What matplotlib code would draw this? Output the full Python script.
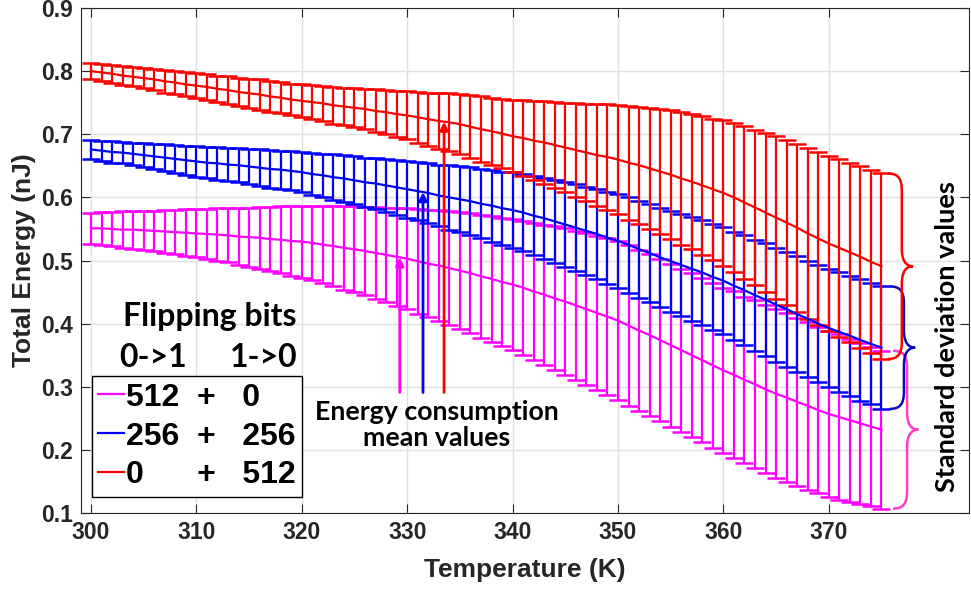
import numpy as np
import matplotlib
matplotlib.use('Agg')
import matplotlib.pyplot as plt
from matplotlib.path import Path
from matplotlib.patches import PathPatch

# Температура, K (шаг 1 K)
temperature = list(range(300, 376))

# 512 + 0 (0->1 + 1->0)
magenta_mean = [0.551, 0.551, 0.550, 0.549, 0.549, 0.548, 0.547, 0.546, 0.545, 0.544,
                0.543, 0.542, 0.541, 0.540, 0.538, 0.537, 0.536, 0.534, 0.533, 0.531,
                0.530, 0.528, 0.525, 0.523, 0.520, 0.518, 0.515, 0.512, 0.509, 0.506,
                0.503, 0.499, 0.495, 0.492, 0.488, 0.484, 0.480, 0.475, 0.471, 0.466,
                0.462, 0.457, 0.451, 0.446, 0.440, 0.435, 0.429, 0.423, 0.417, 0.411,
                0.405, 0.397, 0.389, 0.382, 0.374, 0.366, 0.358, 0.350, 0.342, 0.334,
                0.326, 0.319, 0.311, 0.304, 0.296, 0.289, 0.283, 0.276, 0.270, 0.263,
                0.257, 0.252, 0.247, 0.242, 0.237, 0.232]
magenta_std = [0.025, 0.026, 0.027, 0.029, 0.030, 0.031, 0.032, 0.034, 0.035, 0.037,
               0.038, 0.040, 0.042, 0.043, 0.045, 0.047, 0.049, 0.051, 0.053, 0.055,
               0.057, 0.059, 0.061, 0.064, 0.066, 0.068, 0.070, 0.073, 0.075, 0.078,
               0.080, 0.083, 0.085, 0.088, 0.090, 0.093, 0.095, 0.097, 0.100, 0.102,
               0.104, 0.106, 0.109, 0.111, 0.114, 0.116, 0.118, 0.120, 0.122, 0.124,
               0.126, 0.127, 0.127, 0.128, 0.128, 0.129, 0.129, 0.130, 0.130, 0.131,
               0.131, 0.132, 0.132, 0.133, 0.133, 0.134, 0.134, 0.133, 0.133, 0.132,
               0.132, 0.131, 0.129, 0.128, 0.126, 0.125]

# 256 + 256
blue_mean = [0.676, 0.674, 0.672, 0.671, 0.669, 0.667, 0.665, 0.663, 0.661, 0.659,
             0.657, 0.655, 0.654, 0.652, 0.651, 0.649, 0.647, 0.645, 0.644, 0.642,
             0.640, 0.637, 0.635, 0.632, 0.630, 0.627, 0.624, 0.622, 0.619, 0.616,
             0.613, 0.610, 0.607, 0.603, 0.600, 0.597, 0.594, 0.590, 0.587, 0.583,
             0.580, 0.576, 0.571, 0.567, 0.562, 0.557, 0.552, 0.547, 0.542, 0.536,
             0.531, 0.525, 0.518, 0.512, 0.505, 0.499, 0.493, 0.487, 0.481, 0.474,
             0.468, 0.460, 0.453, 0.445, 0.438, 0.430, 0.423, 0.415, 0.408, 0.400,
             0.393, 0.387, 0.381, 0.374, 0.368, 0.362]
blue_std = [0.015, 0.016, 0.017, 0.017, 0.018, 0.019, 0.020, 0.021, 0.022, 0.023,
            0.024, 0.025, 0.026, 0.026, 0.027, 0.028, 0.029, 0.030, 0.030, 0.031,
            0.032, 0.033, 0.034, 0.036, 0.037, 0.038, 0.039, 0.041, 0.042, 0.044,
            0.045, 0.046, 0.048, 0.049, 0.051, 0.052, 0.054, 0.055, 0.057, 0.058,
            0.060, 0.061, 0.063, 0.064, 0.066, 0.067, 0.069, 0.070, 0.072, 0.073,
            0.075, 0.076, 0.077, 0.078, 0.079, 0.080, 0.081, 0.082, 0.083, 0.084,
            0.085, 0.086, 0.087, 0.088, 0.089, 0.090, 0.091, 0.092, 0.092, 0.093,
            0.094, 0.095, 0.095, 0.096, 0.096, 0.097]

# 0 + 512
red_mean = [0.800, 0.798, 0.796, 0.793, 0.791, 0.789, 0.787, 0.784, 0.782, 0.779,
            0.777, 0.775, 0.772, 0.770, 0.767, 0.765, 0.763, 0.760, 0.758, 0.755,
            0.753, 0.751, 0.749, 0.746, 0.744, 0.742, 0.740, 0.737, 0.735, 0.732,
            0.730, 0.727, 0.724, 0.721, 0.719, 0.716, 0.712, 0.708, 0.705, 0.701,
            0.697, 0.694, 0.690, 0.687, 0.683, 0.679, 0.675, 0.671, 0.667, 0.664,
            0.660, 0.655, 0.651, 0.646, 0.641, 0.636, 0.630, 0.625, 0.619, 0.613,
            0.607, 0.600, 0.592, 0.584, 0.576, 0.568, 0.560, 0.552, 0.543, 0.535,
            0.527, 0.520, 0.513, 0.506, 0.498, 0.491]
red_std = [0.013, 0.014, 0.014, 0.015, 0.015, 0.016, 0.017, 0.018, 0.018, 0.019,
           0.020, 0.021, 0.021, 0.022, 0.022, 0.023, 0.024, 0.024, 0.025, 0.025,
           0.026, 0.027, 0.028, 0.029, 0.030, 0.031, 0.032, 0.034, 0.035, 0.037,
           0.038, 0.040, 0.042, 0.044, 0.046, 0.048, 0.050, 0.052, 0.053, 0.055,
           0.057, 0.060, 0.063, 0.065, 0.068, 0.071, 0.074, 0.077, 0.081, 0.084,
           0.087, 0.090, 0.093, 0.096, 0.099, 0.102, 0.105, 0.107, 0.110, 0.112,
           0.115, 0.118, 0.121, 0.123, 0.126, 0.129, 0.131, 0.133, 0.135, 0.137,
           0.139, 0.141, 0.142, 0.144, 0.145, 0.147]

labels = ['512  +   0', '256  +   256', '0      +   512']
colors = ['#FF00FF', '#0000FF', '#FF0000']
brace_colors = ['#FF3CC8', '#0A0AB4', '#FF0000']

plt.rcParams['font.family'] = 'Liberation Sans'
calibri_like = 'Lato'
axis_gray = '#262626'

fig = plt.figure(figsize=(9.71, 5.92), dpi=100)
ax = fig.add_axes([0.0834, 0.1334, 0.9145, 0.853])

# Кривые со столбцами ошибок
series = [(magenta_mean, magenta_std), (blue_mean, blue_std), (red_mean, red_std)]
handles = []
for (mean, std), color in zip(series, colors):
    eb = ax.errorbar(temperature, mean, yerr=std, color=color, lw=1.6,
                     elinewidth=1.6, capsize=6.5, capthick=1.8)
    handles.append(eb[0])

ax.set_xlim(299.05, 383.3)
ax.set_ylim(0.1, 0.9)
ax.set_xticks(list(range(300, 371, 10)))
yticks = [0.1, 0.2, 0.3, 0.4, 0.5, 0.6, 0.7, 0.8, 0.9]
ax.set_yticks(yticks)
ax.set_yticklabels(['%.1f' % v for v in yticks])
ax.tick_params(direction='in', length=6.5, width=0.8, top=True, right=True,
               colors=axis_gray, labelsize=16.5, pad=6)
for lbl in ax.get_xticklabels() + ax.get_yticklabels():
    lbl.set_fontweight('bold')
ax.grid(True, color='#e0e0e0', lw=1.0)
ax.set_axisbelow(True)
for sp in ax.spines.values():
    sp.set_color(axis_gray)
    sp.set_linewidth(0.8)

ax.set_xlabel('Temperature (K)', fontsize=19, fontweight='bold', color=axis_gray, va='center')
ax.xaxis.set_label_coords(0.5, -0.113)
ax.set_ylabel('Total Energy (nJ)', fontsize=19, fontweight='bold', color=axis_gray, va='center')
ax.yaxis.set_label_coords(-0.064, 0.5)

# Легенда
leg = ax.legend(handles, labels, loc='lower left', bbox_to_anchor=(0.012, 0.032),
                prop={'weight': 'bold', 'size': 23}, frameon=True, fancybox=False,
                edgecolor='black', framealpha=1, handlelength=0.8, handletextpad=0.08,
                borderpad=0.2, labelspacing=0.28, borderaxespad=0)
leg.get_frame().set_linewidth(1.0)

ax.text(311.3, 0.411, 'Flipping bits', ha='center', va='center', fontsize=23,
        family=calibri_like, fontweight='bold')
ax.text(305.9, 0.346, '0->1', ha='center', va='center', fontsize=23,
        family=calibri_like, fontweight='bold')
ax.text(316.4, 0.346, '1->0', ha='center', va='center', fontsize=23,
        family=calibri_like, fontweight='bold')

# Стрелки к средним значениям
arrow_x = [329.3, 331.5, 333.5]
for (mean, std), color, xa in zip(series, colors, arrow_x):
    y_tip = np.interp(xa, temperature, mean)
    ax.annotate('', xy=(xa, y_tip), xytext=(xa, 0.291),
                arrowprops=dict(arrowstyle='-|>', color=color, lw=2,
                                mutation_scale=12, shrinkA=0, shrinkB=0), zorder=5)
ax.text(332.8, 0.240, 'Energy consumption\nmean values', ha='center', va='center',
        fontsize=19.3, family=calibri_like, fontweight='bold', linespacing=1.1)


# Фигурные скобки для стандартного отклонения
def draw_brace(x_left, y_top, y_mid, y_bot, color):
    xb = x_left + 1.33
    xt = x_left + 2.4
    r = 0.028
    verts = [(x_left, y_top), (x_left + 1.0, y_top), (xb, y_top - 0.3 * r), (xb, y_top - r),
             (xb, y_mid + r),
             (xb, y_mid + 0.3 * r), (xb + 0.4, y_mid), (xt, y_mid),
             (xb + 0.4, y_mid), (xb, y_mid - 0.3 * r), (xb, y_mid - r),
             (xb, y_bot + r),
             (xb, y_bot + 0.3 * r), (x_left + 1.0, y_bot), (x_left, y_bot)]
    codes = [Path.MOVETO, Path.CURVE4, Path.CURVE4, Path.CURVE4,
             Path.LINETO,
             Path.CURVE4, Path.CURVE4, Path.CURVE4,
             Path.CURVE4, Path.CURVE4, Path.CURVE4,
             Path.LINETO,
             Path.CURVE4, Path.CURVE4, Path.CURVE4]
    ax.add_patch(PathPatch(Path(verts, codes), fill=False, edgecolor=color, lw=1.8,
                           clip_on=False))


brace_x = [376.1, 375.8, 375.6]
for (mean, std), color, xl in zip(series, brace_colors, brace_x):
    draw_brace(xl, mean[-1] + std[-1], mean[-1], mean[-1] - std[-1], color)

ax.text(381.2, 0.3795, 'Standard deviation values', rotation=90, ha='center',
        va='center', fontsize=19.5, family=calibri_like, fontweight='bold')

plt.savefig('out.png', dpi=100)
